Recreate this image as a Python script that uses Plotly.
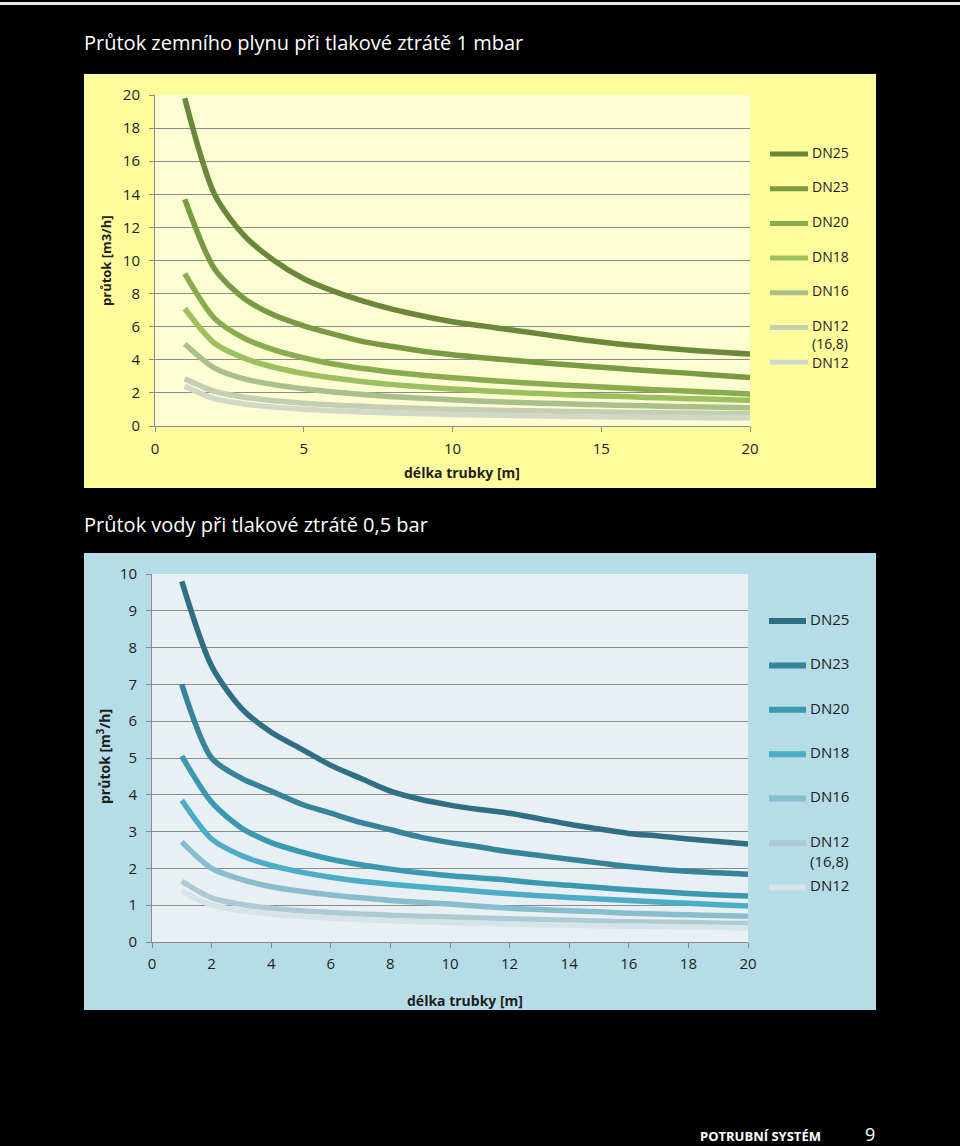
import plotly.graph_objects as go

W, H = 960, 1146          # reference picture size (layout is expressed in these pixels)
FW, FH = 973, 1166        # figure size (compensates for the slight shrink seen in the screenshot)

# ---------------- data ----------------
lengths = [1, 2, 3, 4, 5, 6, 7, 8, 9, 10, 11, 12, 13, 14, 15, 16, 17, 18, 19, 20]

gas_names = ["DN25", "DN23", "DN20", "DN18", "DN16", "DN12<br>(16,8)", "DN12"]
gas_DN25 = [19.8, 14.0, 11.5, 10.0, 8.9, 8.15, 7.55, 7.05, 6.65, 6.3, 6.05, 5.8, 5.55, 5.3, 5.07, 4.88, 4.72, 4.58, 4.45, 4.35]
gas_DN23 = [13.7, 9.5, 7.7, 6.7, 6.05, 5.55, 5.1, 4.8, 4.52, 4.3, 4.13, 3.97, 3.82, 3.68, 3.55, 3.42, 3.3, 3.18, 3.05, 2.93]
gas_DN20 = [9.2, 6.5, 5.3, 4.6, 4.12, 3.75, 3.47, 3.25, 3.07, 2.92, 2.78, 2.66, 2.55, 2.45, 2.36, 2.27, 2.18, 2.1, 2.02, 1.94]
gas_DN18 = [7.1, 5.0, 4.1, 3.55, 3.17, 2.9, 2.68, 2.5, 2.36, 2.24, 2.13, 2.04, 1.96, 1.88, 1.82, 1.76, 1.7, 1.65, 1.6, 1.56]
gas_DN16 = [4.95, 3.5, 2.85, 2.5, 2.25, 2.05, 1.9, 1.77, 1.67, 1.58, 1.5, 1.44, 1.38, 1.33, 1.28, 1.24, 1.2, 1.16, 1.13, 1.1]
gas_DN12_168 = [2.85, 2.09, 1.74, 1.53, 1.38, 1.27, 1.19, 1.12, 1.06, 1.01, 0.97, 0.93, 0.9, 0.87, 0.84, 0.82, 0.8, 0.78, 0.76, 0.74]
gas_DN12 = [2.4, 1.65, 1.33, 1.14, 1.01, 0.92, 0.85, 0.79, 0.74, 0.7, 0.67, 0.64, 0.61, 0.58, 0.56, 0.54, 0.53, 0.51, 0.5, 0.48]
gas_series = [gas_DN25, gas_DN23, gas_DN20, gas_DN18, gas_DN16, gas_DN12_168, gas_DN12]
gas_colors = ["#6B883A", "#7A9A42", "#8AAC4F", "#9DBF5E", "#AABF8A", "#C4CEB3", "#D2D8C8"]

water_names = ["DN25", "DN23", "DN20", "DN18", "DN16", "DN12<br>(16,8)", "DN12"]
water_DN25 = [9.8, 7.5, 6.35, 5.7, 5.25, 4.8, 4.45, 4.1, 3.88, 3.72, 3.6, 3.5, 3.35, 3.2, 3.07, 2.95, 2.88, 2.8, 2.73, 2.66]
water_DN23 = [7.0, 5.0, 4.45, 4.1, 3.75, 3.5, 3.25, 3.05, 2.85, 2.7, 2.58, 2.45, 2.35, 2.25, 2.15, 2.05, 1.98, 1.92, 1.88, 1.84]
water_DN20 = [5.05, 3.8, 3.1, 2.7, 2.45, 2.25, 2.1, 1.98, 1.88, 1.8, 1.74, 1.68, 1.6, 1.54, 1.48, 1.42, 1.37, 1.32, 1.28, 1.25]
water_DN18 = [3.85, 2.8, 2.35, 2.08, 1.9, 1.76, 1.65, 1.57, 1.5, 1.44, 1.37, 1.31, 1.26, 1.21, 1.17, 1.13, 1.09, 1.05, 1.01, 0.98]
water_DN16 = [2.72, 2.0, 1.7, 1.5, 1.38, 1.28, 1.2, 1.13, 1.08, 1.03, 0.97, 0.92, 0.88, 0.85, 0.82, 0.78, 0.76, 0.74, 0.72, 0.7]
water_DN12_168 = [1.65, 1.2, 1.02, 0.92, 0.85, 0.8, 0.76, 0.73, 0.7, 0.68, 0.65, 0.63, 0.61, 0.59, 0.57, 0.55, 0.54, 0.53, 0.51, 0.5]
water_DN12 = [1.38, 1.0, 0.85, 0.76, 0.7, 0.65, 0.61, 0.58, 0.55, 0.53, 0.51, 0.49, 0.47, 0.46, 0.44, 0.43, 0.42, 0.41, 0.4, 0.38]
water_series = [water_DN25, water_DN23, water_DN20, water_DN18, water_DN16, water_DN12_168, water_DN12]
water_colors = ["#2F6F86", "#35849B", "#3B98B1", "#4CADC8", "#88BDCD", "#AECBD5", "#D6E3E8"]

gas_xticks = [0, 5, 10, 15, 20]
water_xticks = [0, 2, 4, 6, 8, 10, 12, 14, 16, 18, 20]

title_gas = "Průtok zemního plynu při tlakové ztrátě 1 mbar"
title_water = "Průtok vody při tlakové ztrátě 0,5 bar"

FONT = "Open Sans"


def px(x):
    return x / W


def py(y):
    return 1 - y / H


fig = go.Figure()

for name, vals, col in zip(gas_names, gas_series, gas_colors):
    fig.add_trace(go.Scatter(x=lengths, y=vals, name=name.replace("<br>", " "), mode="lines",
                             line=dict(color=col, width=5.5, shape="spline", smoothing=0.8),
                             xaxis="x", yaxis="y", showlegend=False))
for name, vals, col in zip(water_names, water_series, water_colors):
    fig.add_trace(go.Scatter(x=lengths, y=vals, name=name.replace("<br>", " "), mode="lines",
                             line=dict(color=col, width=5.5, shape="spline", smoothing=0.8),
                             xaxis="x2", yaxis="y2", showlegend=False))

axis_common = dict(showline=True, linecolor="#8a8a8a", linewidth=1, ticks="outside",
                   ticklen=5, tickcolor="#8a8a8a", zeroline=False, fixedrange=True,
                   tickfont=dict(family=FONT, size=15, color="#1e1e1e"))

fig.update_layout(
    width=FW, height=FH, autosize=False,
    margin=dict(l=0, r=0, t=0, b=0),
    paper_bgcolor="#000000", plot_bgcolor="rgba(0,0,0,0)",
    showlegend=False,
    xaxis=dict(domain=[px(155), px(750)], range=[0, 20], tickvals=gas_xticks, showgrid=False,
               anchor="y", ticklabelstandoff=4, **axis_common),
    yaxis=dict(domain=[py(424), py(93)], range=[0, 20], dtick=2, showgrid=True,
               gridcolor="#8c8c8c", gridwidth=1, anchor="x", ticklabelstandoff=6, **axis_common),
    xaxis2=dict(domain=[px(152), px(748)], range=[0, 20], tickvals=water_xticks, showgrid=False,
                anchor="y2", ticklabelstandoff=3, **axis_common),
    yaxis2=dict(domain=[py(940), py(572)], range=[0, 10], dtick=1, showgrid=True,
                gridcolor="#8c8c8c", gridwidth=1, anchor="x2", ticklabelstandoff=6, **axis_common),
)

shapes = [
    # top thin light strip
    dict(type="rect", xref="paper", yref="paper", x0=0, x1=1, y0=py(3), y1=1,
         fillcolor="#e8e8e8", line=dict(width=0), layer="below"),
    # gas panel
    dict(type="rect", xref="paper", yref="paper", x0=px(84), x1=px(876), y0=py(486), y1=py(72),
         fillcolor="#FFFC9C", line=dict(width=0), layer="below"),
    dict(type="rect", xref="paper", yref="paper", x0=px(155), x1=px(750), y0=py(424), y1=py(93),
         fillcolor="#FDFDD3", line=dict(width=0), layer="below"),
    # water panel
    dict(type="rect", xref="paper", yref="paper", x0=px(84), x1=px(876), y0=py(1008), y1=py(551),
         fillcolor="#B5DCE7", line=dict(width=0), layer="below"),
    dict(type="rect", xref="paper", yref="paper", x0=px(152), x1=px(748), y0=py(940), y1=py(572),
         fillcolor="#E8F0F4", line=dict(width=0), layer="below"),
]

annotations = [
    dict(text=title_gas, xref="paper", yref="paper", x=px(82), y=py(40), xanchor="left",
         yanchor="middle", showarrow=False, font=dict(family=FONT, size=20, color="#ffffff")),
    dict(text=title_water, xref="paper", yref="paper", x=px(82), y=py(522), xanchor="left",
         yanchor="middle", showarrow=False, font=dict(family=FONT, size=20, color="#ffffff")),
    # axis titles
    dict(text="<b>průtok [m3/h]</b>", xref="paper", yref="paper", x=px(106), y=py(259),
         textangle=-90, showarrow=False, xanchor="center", yanchor="middle",
         font=dict(family=FONT, size=13, color="#1e1e1e")),
    dict(text="<b>délka trubky [m]</b>", xref="paper", yref="paper", x=px(462), y=py(471),
         showarrow=False, xanchor="center", yanchor="middle",
         font=dict(family=FONT, size=14, color="#1e1e1e")),
    dict(text="<b>průtok [m<sup>3</sup>/h]</b>", xref="paper", yref="paper", x=px(104), y=py(755),
         textangle=-90, showarrow=False, xanchor="center", yanchor="middle",
         font=dict(family=FONT, size=14, color="#1e1e1e")),
    dict(text="<b>délka trubky [m]</b>", xref="paper", yref="paper", x=px(465), y=py(998),
         showarrow=False, xanchor="center", yanchor="middle",
         font=dict(family=FONT, size=14, color="#1e1e1e")),
    # footer
    dict(text="<b>POTRUBNÍ SYSTÉM</b>", xref="paper", yref="paper", x=px(698), y=py(1134),
         xanchor="left", yanchor="middle", showarrow=False,
         font=dict(family=FONT, size=13, color="#ffffff")),
    dict(text="9", xref="paper", yref="paper", x=px(870), y=py(1132),
         xanchor="center", yanchor="middle", showarrow=False,
         font=dict(family=FONT, size=18, color="#ffffff")),
]


def add_legend(names, colors, y0, step, line_x0, line_x1, text_x, fsize, lw, last_shift):
    n = len(names)
    for i, (name, col) in enumerate(zip(names, colors)):
        yc = y0 + i * step
        shapes.append(dict(type="line", xref="paper", yref="paper", x0=px(line_x0), x1=px(line_x1),
                           y0=py(yc), y1=py(yc), line=dict(color=col, width=lw), layer="above"))
        # first text line centred on the legend line
        top = yc - fsize * 0.88 + (last_shift if i == n - 1 else 0)
        annotations.append(dict(text=name, xref="paper", yref="paper", x=px(text_x),
                                y=py(top), xanchor="left", yanchor="top", align="left",
                                showarrow=False, borderpad=0,
                                font=dict(family=FONT, size=fsize, color="#1e1e1e")))


add_legend(gas_names, gas_colors, 152, 34.7, 770, 808, 811, 14, 5, 2)
add_legend(water_names, water_colors, 619, 44.4, 769, 806, 809, 15, 6, 0)

fig.update_layout(shapes=shapes, annotations=annotations)

post = (
    "document.documentElement.style.margin='0';"
    "document.documentElement.style.overflow='hidden';"
    "document.documentElement.style.background='#000';"
    "document.body.style.margin='0';document.body.style.padding='0';"
    "document.body.style.overflow='hidden';document.body.style.background='#000';"
    "var gd=document.getElementById('{plot_id}');"
    "gd.style.position='fixed';gd.style.left='-4px';gd.style.top='-9px';"
)

fig.write_html("out.html", config={"displayModeBar": False}, post_script=post)
